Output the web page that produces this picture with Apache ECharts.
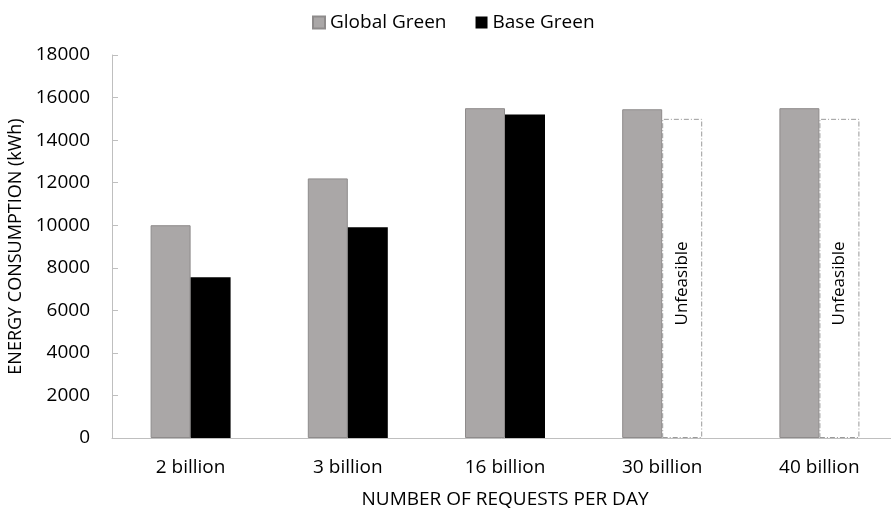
<!DOCTYPE html>
<html><head><meta charset="utf-8">
<script src="https://cdn.jsdelivr.net/npm/echarts@6/dist/echarts.min.js"></script>
<style>html,body{margin:0;padding:0;background:#fff}#c{width:891px;height:511px}</style>
</head><body><div id="c"></div>
<script>
const categories = ['2 billion', '3 billion', '16 billion', '30 billion', '40 billion'];
const globalGreen = [10000, 12200, 15500, 15450, 15500];
const baseGreen = [7550, 9900, 15200, 15000, 15000];
const unfeasible = [false, false, false, true, true];
const yTicks = [0, 2000, 4000, 6000, 8000, 10000, 12000, 14000, 16000, 18000];

const FONT = 'Open Sans';
const chart = echarts.init(document.getElementById('c'), null, {renderer: 'canvas'});
chart.setOption({
  animation: false,
  backgroundColor: '#fff',
  textStyle: {fontFamily: FONT},
  legend: {
    top: 8, left: 307,
    itemWidth: 12, itemHeight: 12, itemGap: 29,
    icon: 'rect',
    textStyle: {fontFamily: FONT, fontSize: 19, color: '#000'},
    data: ['Global Green', 'Base Green']
  },
  grid: {left: 112, right: -7, top: 55, bottom: 73, containLabel: false, outerBoundsMode: 'none'},
  xAxis: {
    type: 'category',
    data: categories,
    name: 'NUMBER OF REQUESTS PER DAY',
    nameLocation: 'middle',
    nameGap: 52,
    nameTextStyle: {fontFamily: FONT, fontSize: 19, color: '#000'},
    axisLine: {lineStyle: {color: '#bfbfbf', width: 1}},
    axisTick: {show: false},
    axisLabel: {fontFamily: FONT, fontSize: 19, color: '#000', margin: 20}
  },
  yAxis: {
    type: 'value',
    min: yTicks[0], max: yTicks[yTicks.length - 1], interval: 2000,
    name: 'ENERGY CONSUMPTION (kWh)',
    nameLocation: 'middle',
    nameGap: 84,
    nameTextStyle: {fontFamily: FONT, fontSize: 18, color: '#000'},
    axisLine: {show: true, lineStyle: {color: '#bfbfbf', width: 1}},
    axisTick: {show: true, inside: true, length: 6, lineStyle: {color: '#bfbfbf'}},
    splitLine: {show: false},
    axisLabel: {fontFamily: FONT, fontSize: 19, color: '#000', margin: 22, formatter: v => String(v)}
  },
  series: [
    {
      name: 'Global Green', type: 'bar', barWidth: 40, barGap: '0%',
      itemStyle: {color: '#aaa7a7', borderColor: '#8e8b8b', borderWidth: 1},
      data: globalGreen
    },
    {
      name: 'Base Green', type: 'bar', barWidth: 40, barGap: '0%',
      itemStyle: {color: '#000'},
      data: baseGreen.map((v, i) => unfeasible[i] ? {
        value: v,
        itemStyle: {color: '#fff', borderColor: '#9a9a9a', borderWidth: 1, borderType: [5, 2, 1, 2]},
        label: {show: true, position: 'inside', rotate: 90, formatter: 'Unfeasible',
                fontFamily: FONT, fontSize: 17, color: '#000', offset: [-5, 0]}
      } : v)
    }
  ]
});
</script></body></html>
